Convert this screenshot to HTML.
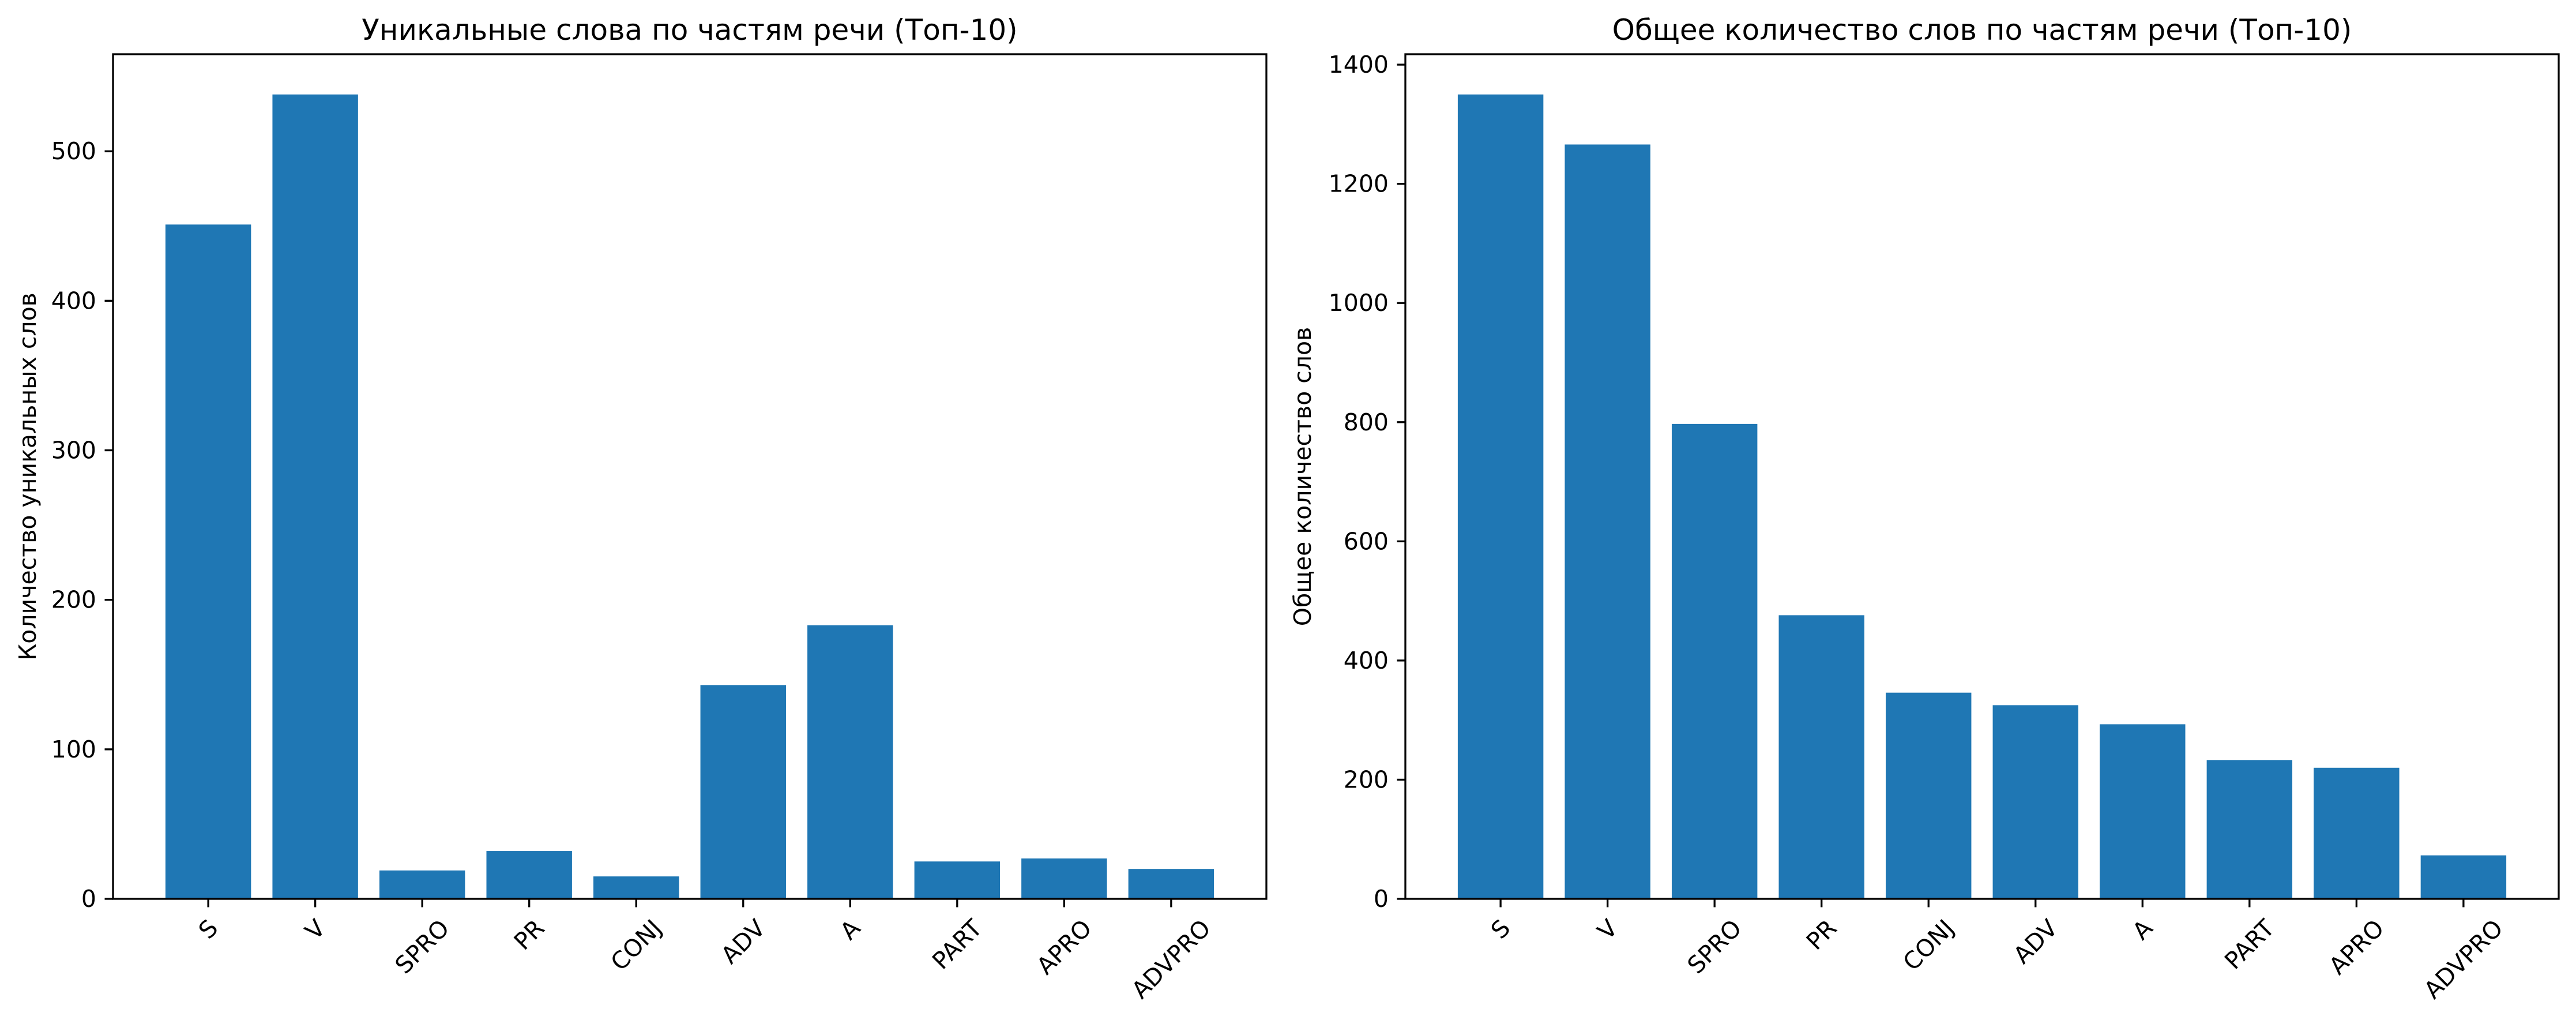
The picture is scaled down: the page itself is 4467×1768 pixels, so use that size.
<!DOCTYPE html>
<html><head><meta charset="utf-8"><style>
html,body{margin:0;padding:0;background:#fff;}
svg{display:block;font-family:"DejaVu Sans","Liberation Sans",sans-serif;}
</style></head><body>
<svg id="chart" width="4467" height="1768" viewBox="0 0 4467 1768" xmlns="http://www.w3.org/2000/svg"></svg>
<script>
const categories = ["S","V","SPRO","PR","CONJ","ADV","A","PART","APRO","ADVPRO"];
const uniqueValues = [451,538,19,32,15,143,183,25,27,20];
const totalValues = [1350,1266,797,476,346,325,293,233,220,73];
const uniqueTicks = [0,100,200,300,400,500];
const totalTicks = [0,200,400,600,800,1000,1200,1400];
const uniqueTitle = "Уникальные слова по частям речи (Топ-10)";
const totalTitle = "Общее количество слов по частям речи (Топ-10)";
const uniqueYLabel = "Количество уникальных слов";
const totalYLabel = "Общее количество слов";

const NS = "http://www.w3.org/2000/svg";
const svg = document.getElementById('chart');
function mk(tag, attrs, parent){
  const e = document.createElementNS(NS, tag);
  for (const k in attrs) e.setAttribute(k, attrs[k]);
  (parent||svg).appendChild(e);
  return e;
}
function drawPanel(prefix, x0, x1, y0, y1, values, ticks, title, ylabel, ylabelX){
  const g = mk('g', {});
  
  
  const ymax = Math.max(...values) * 1.05;
  const xmin = -0.89, xmax = categories.length - 1 + 0.89;
  const xs = v => x0 + (v - xmin) / (xmax - xmin) * (x1 - x0);
  const ys = v => y1 - v / ymax * (y1 - y0);
  values.forEach((v, i) => {
    const r = mk('rect', {x: xs(i - 0.4), y: ys(v), width: xs(i + 0.4) - xs(i - 0.4), height: ys(0) - ys(v), fill: '#1f77b4'}, g);
    
    
  });
  const frame = mk('rect', {x: x0, y: y0, width: x1 - x0, height: y1 - y0, fill: 'none', stroke: '#000', 'stroke-width': 3.3}, g);
  
  
  ticks.forEach(t => {
    const y = ys(t);
    mk('line', {x1: x0 - 14.5, x2: x0, y1: y, y2: y, stroke: '#000', 'stroke-width': 3.3}, g);
    const tx = mk('text', {x: x0 - 29, y: y, 'font-size': 41, 'text-anchor': 'end', 'dominant-baseline': 'central'}, g);
    tx.textContent = t;
    
    
  });
  categories.forEach((c, i) => {
    const x = xs(i);
    mk('line', {x1: x, x2: x, y1: y1, y2: y1 + 14.5, stroke: '#000', 'stroke-width': 3.3}, g);
    const tx = mk('text', {x: 0, y: 0, 'font-size': 41, 'text-anchor': 'middle', 'dominant-baseline': 'central'}, g);
    tx.textContent = c;
    
    
    const w = tx.getComputedTextLength();
    const h = 41 * 1.0;
    const bh = (w + h) / Math.SQRT2;
    const top = y1 + 14.5 + 14.5;
    tx.setAttribute('transform', `translate(${x},${top + bh / 2}) rotate(-45)`);
  });
  const tt = mk('text', {x: (x0 + x1) / 2, y: y0 - 25, 'font-size': 50, 'text-anchor': 'middle'}, g);
  tt.textContent = title;
  
  
  const yl = mk('text', {x: 0, y: 0, 'font-size': 41, 'text-anchor': 'middle', 'dominant-baseline': 'central', transform: `translate(${ylabelX},${(y0 + y1) / 2}) rotate(-90)`}, g);
  yl.textContent = ylabel;
  
  
}
drawPanel('unique', 196, 2196, 94, 1558, uniqueValues, uniqueTicks, uniqueTitle, uniqueYLabel, 48);
drawPanel('total', 2437, 4437, 94, 1558, totalValues, totalTicks, totalTitle, totalYLabel, 2259);
</script>
</body></html>
